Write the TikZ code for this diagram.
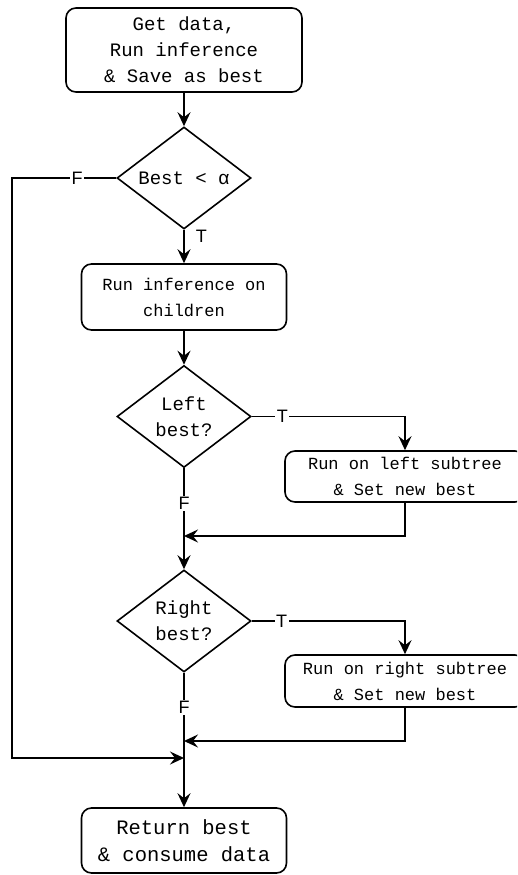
\documentclass[tikz,border=0pt]{standalone}
\usepackage{fontspec}
\setmainfont{Liberation Sans}
\newfontfamily\monof{Liberation Mono}
\usetikzlibrary{shapes.geometric,arrows.meta,calc}
\tikzset{
  box/.style={draw, rounded corners=10pt, line width=1.6pt, align=center, inner sep=0pt,
    font=\monof\fontsize{17}{26}\selectfont},
  dia/.style={draw, diamond, shape aspect=1.3, inner sep=0pt, line width=1.6pt, align=center,
    minimum width=134pt, minimum height=102pt, font=\monof\fontsize{19}{26}\selectfont},
  arr/.style={-{Stealth[length=14pt,width=13pt,inset=5pt]}, line width=1.6pt},
  lab/.style={font=\fontsize{18}{20}\selectfont, fill=white, inner sep=1.5pt},
}
\begin{document}
\begin{tikzpicture}[x=1pt,y=-1pt]
\useasboundingbox (0,0) rectangle (517,875);
\clip (0,0) rectangle (517,875);
\node[box, minimum width=236pt, minimum height=84pt, font=\monof\fontsize{19}{26}\selectfont] (b1) at (184,50) {Get data,\\Run inference\\\& Save as best};
\node[dia] (d1) at (184,178) {Best < α};
\node[box, minimum width=205pt, minimum height=66pt] (b2) at (184,297) {Run inference on\\children};
\node[dia] (d2) at (184,416.5) {Left\\best?};
\node[box, minimum width=240pt, minimum height=51pt] (b3) at (405,476.5) {Run on left subtree\\\& Set new best};
\node[dia] (d3) at (184,621) {Right\\best?};
\node[box, minimum width=240pt, minimum height=52pt] (b4) at (405,681) {Run on right subtree\\\& Set new best};
\node[box, minimum width=205pt, minimum height=65pt, font=\monof\fontsize{20.5}{27}\selectfont] (b5) at (184,840.5) {Return best\\\& consume data};
\coordinate (L) at (12,758);
\coordinate (m1) at (184,536);
\coordinate (m2) at (184,741);
\coordinate (m3) at (184,758);
\draw[arr] (b1.south) -- (d1.north);
\draw[arr] (d1.south) -- node[lab, fill=none, pos=0.2, anchor=west, xshift=11pt, inner sep=0pt]{T} (b2.north);
\draw[arr] (d1.west) -- node[lab, pos=0.375]{F} (d1.west -| L) -- (L) -- (m3);
\draw[arr] (b2.south) -- (d2.north);
\draw[arr] (d2.east) -- node[lab, pos=0.2]{T} (d2.east -| b3.north) -- (b3.north);
\draw[arr] (d2.south) -- node[lab, pos=0.35]{F} (d3.north);
\draw[arr] (b3.south) |- (m1);
\draw[arr] (d3.east) -- node[lab, pos=0.195]{T} (d3.east -| b4.north) -- (b4.north);
\draw[arr] (d3.south) -- node[lab, pos=0.257]{F} (b5.north);
\draw[arr] (b4.south) |- (m2);
\end{tikzpicture}
\end{document}
